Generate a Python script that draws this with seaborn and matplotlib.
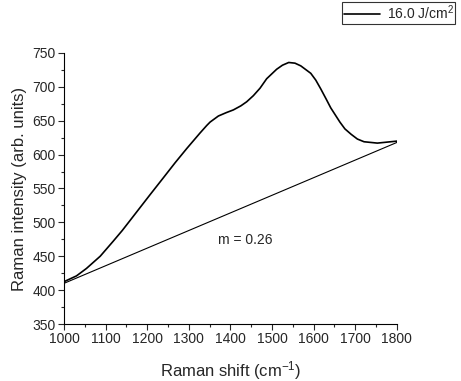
import matplotlib
matplotlib.use("Agg")
import matplotlib.pyplot as plt
import seaborn as sns
import pandas as pd
from matplotlib.ticker import MultipleLocator

shift = [1000, 1002, 1030, 1054, 1087, 1118, 1140, 1159, 1207, 1239, 1267, 1295, 1327,
         1343, 1351, 1371, 1390, 1407, 1425, 1439, 1455, 1471, 1487, 1511, 1525,
         1540, 1555, 1569, 1593, 1605, 1617, 1630, 1641, 1663, 1675, 1690, 1705, 1721,
         1753, 1785, 1801]
intensity = [410, 413, 421, 432, 450, 472, 488, 503, 541, 566, 588, 609, 632,
             643, 648, 657, 662, 666, 672, 678, 687, 698, 712, 726, 732,
             736, 735, 731, 720, 710, 697, 682, 669, 648, 638, 630, 623, 619,
             617, 619, 620]
base_x = [1000, 1800]
base_y = [410, 618]
legend_label = "16.0 J/cm$^2$"
slope_text = "m = 0.26"

sns.set_style("ticks")
plt.rcParams["font.family"] = ["Liberation Sans", "DejaVu Sans"]
plt.rcParams["mathtext.fontset"] = "custom"
plt.rcParams["mathtext.rm"] = "Liberation Sans"
plt.rcParams["mathtext.it"] = "Liberation Sans"

fig = plt.figure(figsize=(4.61, 3.81), dpi=100)
ax = fig.add_axes([0.1388, 0.1496, 0.7222, 0.7113])

df = pd.DataFrame({"x": shift, "y": intensity})
sns.lineplot(data=df, x="x", y="y", ax=ax, color="black", lw=1.2, sort=False,
             label=legend_label, legend=False)
sns.lineplot(x=base_x, y=base_y, ax=ax, color="black", lw=0.8, legend=False)

ax.text(1435, 474, slope_text, fontsize=10, ha="center", va="center")

ax.set_xlim(1000, 1800)
ax.set_ylim(350, 750)
ax.xaxis.set_major_locator(MultipleLocator(100))
ax.xaxis.set_minor_locator(MultipleLocator(50))
ax.yaxis.set_major_locator(MultipleLocator(50))
ax.yaxis.set_minor_locator(MultipleLocator(25))
ax.tick_params(which="major", direction="out", length=4, width=0.8, labelsize=10, pad=2)
ax.tick_params(which="minor", direction="out", length=2, width=0.8)
sns.despine(ax=ax)
for s in ["left", "bottom"]:
    ax.spines[s].set_linewidth(0.8)
    ax.spines[s].set_color("black")

ax.set_xlabel("Raman shift (cm$^{-1}$)", fontsize=12, labelpad=9)
ax.set_ylabel("Raman intensity (arb. units)", fontsize=12, labelpad=4)

handles, labels = ax.get_lines()[:1], [legend_label]
leg = fig.legend(handles, labels, loc="upper right", bbox_to_anchor=(0.988, 0.995),
                 fontsize=10, frameon=True, fancybox=False, edgecolor="black",
                 handlelength=2.6, borderpad=0.12, handletextpad=0.5, borderaxespad=0)
leg.get_frame().set_linewidth(0.8)

fig.savefig("out.png", dpi=100)
